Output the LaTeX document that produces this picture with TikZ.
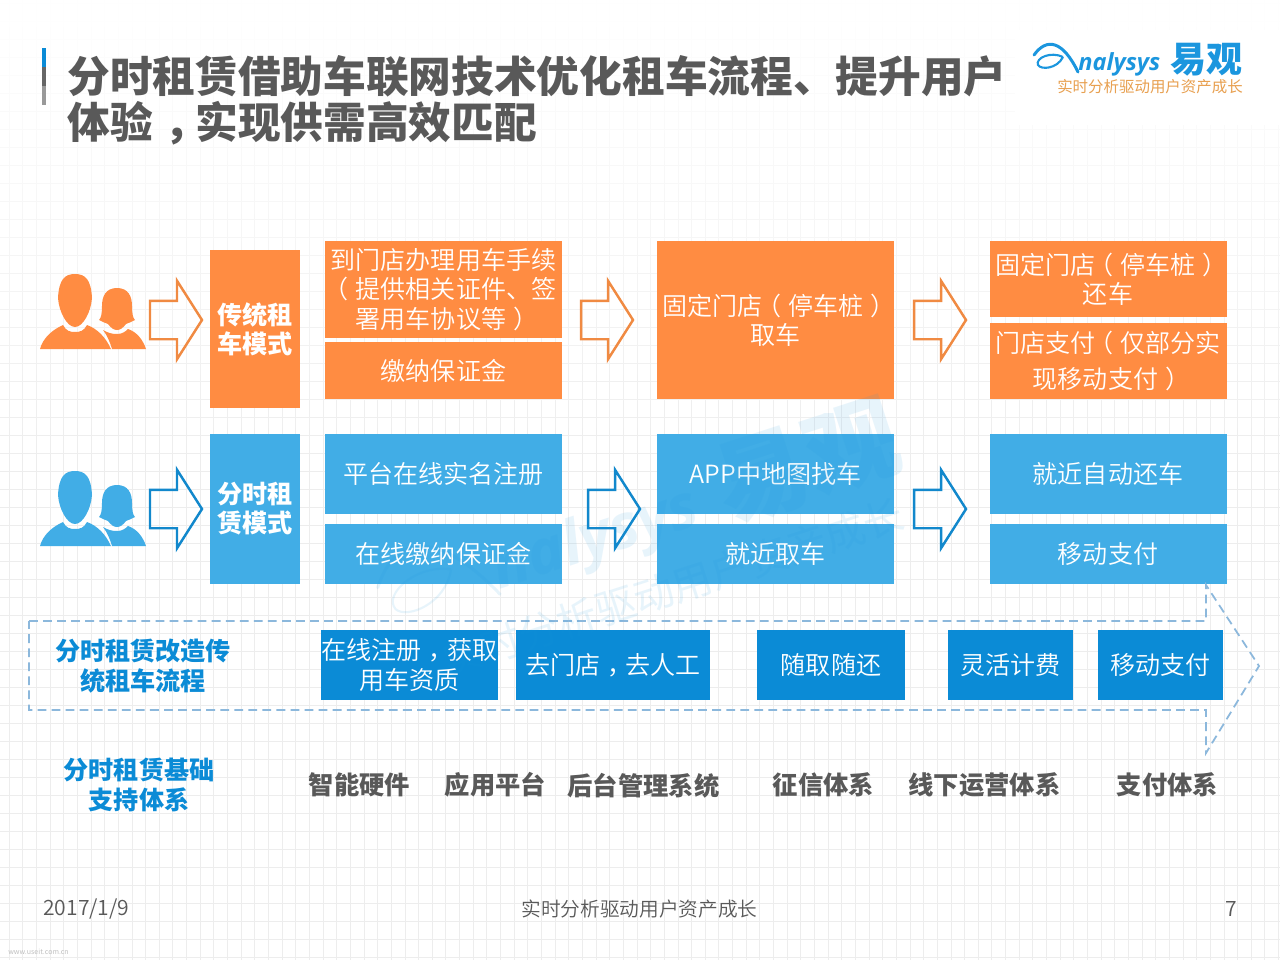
\documentclass[tikz,border=0pt]{standalone}
\usepackage{fontspec}
\setmainfont{Noto Sans CJK SC}
\newfontfamily\lightfont{Noto Sans CJK SC DemiLight}
\newfontfamily\logofont{Open Sans}
\usetikzlibrary{shapes.arrows, fadings}
\definecolor{orange1}{RGB}{255, 140, 66}
\definecolor{orangeline}{RGB}{240, 138, 66}
\definecolor{skyblue}{RGB}{65, 173, 230}
\definecolor{deepblue}{RGB}{11, 139, 214}
\definecolor{arrowblue}{RGB}{18, 136, 204}
\definecolor{dashblue}{RGB}{140, 184, 220}
\definecolor{titlegray}{RGB}{89, 89, 89}
\definecolor{logoblue}{RGB}{27, 150, 222}
\definecolor{logotag}{RGB}{232, 160, 80}
% full-width marks sit in the middle of their cell here
\newcommand{\cma}{\kern.27em，\kern-.27em}
\newcommand{\lpr}{\kern-.28em（\kern.28em}
\newcommand{\rpr}{\kern.28em）\kern-.28em}
\tikzset{
  sized/.style 2 args={minimum width=#1*0.02cm, minimum height=#2*0.02cm},
  flowbox/.style={inner sep=0pt, outer sep=0pt, text=white, align=center, font=\lightfont\fontsize{14.25}{16.7}\selectfont},
  modebox/.style={flowbox, font=\fontsize{14.3}{16.5}\selectfont\bfseries},
  flowarrow/.style={single arrow, draw=#1, line width=1.4pt, inner xsep=0pt, inner ysep=0.36cm, outer sep=0pt, anchor=tip,
    minimum height=1.04cm, single arrow head extend=0.40cm,
    single arrow head indent=0pt, single arrow tip angle=115},
  sidelabel/.style={align=center, text=deepblue, font=\fontsize{14.3}{16.8}\selectfont\bfseries},
  baselabel/.style={text=titlegray, font=\fontsize{14.4}{16.8}\selectfont\bfseries},
  footlabel/.style={text=titlegray, font=\lightfont\fontsize{11.2}{13}\selectfont},
  pics/people/.style={code={
    \fill[#1] (75,274) .. controls (65,274) and (59,279) .. (58,298) .. controls (59,312) and (67,327) .. (75,327)
      .. controls (83,327) and (91,312) .. (92,298) .. controls (91,279) and (85,274) .. (75,274) -- cycle;
    \fill[#1] (40,349) .. controls (43,338) and (52,330) .. (63,325) .. controls (66,331) and (70,332) .. (75,332)
      .. controls (80,332) and (84,331) .. (87,325) .. controls (98,329) and (106,338) .. (111,349) -- cycle;
    \fill[#1] (117,288) .. controls (106,288) and (102,296) .. (102,306) .. controls (102,314) and (101,318) .. (99,320)
      .. controls (102,322) and (106,323) .. (108,324) .. controls (111,328) and (114,330) .. (117,330)
      .. controls (120,330) and (123,328) .. (126,324) .. controls (128,323) and (132,322) .. (135,320)
      .. controls (133,318) and (132,314) .. (132,306) .. controls (132,296) and (128,288) .. (117,288) -- cycle;
    \fill[#1] (103,330) .. controls (108,333) and (112,334) .. (117,334) .. controls (122,334) and (125,332) .. (128,329)
      .. controls (137,332) and (143,340) .. (146,349) -- (112,349) .. controls (110,342) and (107,335) .. (103,330) -- cycle;
  }},
  pics/brandlogo/.style={code={
    % swoosh and the small a, then the lettering; the origin is the middle of the logo
    \draw[logoblue, line width=1.7pt, line cap=round] (-105,-12) .. controls (-92,-30) and (-76,-26) .. (-61,5);
    \draw[logoblue, line width=1.2pt] (-76,-10) .. controls (-88,-16) and (-104,-9) .. (-101,-2)
      .. controls (-98,3) and (-82,2) .. (-76,-10);
    \node[anchor=base west, text=logoblue, font=\logofont\itshape\bfseries\fontsize{13.4}{16}\selectfont, inner sep=0pt] (lyname) at (-61,3) {nalysys};
    \node[text=logoblue, font=\fontsize{20.5}{22}\selectfont\bfseries, inner sep=0pt] (lycn) at (67,-7) {易观};
    \node[text=logotag, font=\fontsize{8.8}{10}\selectfont, inner sep=0pt] (lytag) at #1 {实时分析驱动用户资产成长};
  }},
}
\begin{document}
\begin{tikzpicture}[x=0.02cm, y=-0.02cm]
  \useasboundingbox (0,0) rectangle (1280,960);
  \fill[white] (0,0) rectangle (1280,960);

  % Grid paper, fading out towards the top
  \foreach \gx in {9,22.65,...,1280} \draw[black!7, line width=0.4pt] (\gx,0) -- (\gx,960);
  \foreach \gy in {3,21,...,960} \draw[black!7, line width=0.4pt] (0,\gy) -- (1280,\gy);
  \fill[white, path fading=south] (0,0) rectangle (1280,480);
  \fill[white] (1015,30) rectangle (1280,125);

  % Title
  \fill[deepblue] (42,48) rectangle (46,67);
  \fill[black!60] (42,67) rectangle (46,86);
  \fill[black!40] (42,86) rectangle (46,105);
  \node[anchor=north west, align=left, inner sep=0pt, text=titlegray, font=\fontsize{24.3}{26}\selectfont\bfseries] (title) at (67,55.5) {分时租赁借助车联网技术优化租车流程、提升用户\\体验\cma 实现供需高效匹配};
  \pic at (1139,67) {brandlogo={(11,20)}};

  % Traditional rental row
  \pic at (0,0) {people=orange1};
  \node[flowarrow=orangeline] (oa1) at (202,320) {};
  \node[modebox, sized={90}{158}, fill=orange1] (mode1) at (255,329) {传统租\\车模式};
  \node[flowbox, sized={237}{97}, fill=orange1] (o1) at (443.5,289.5) {到门店办理用车手续\\\lpr 提供相关证件、签\\署用车协议等\rpr};
  \node[flowbox, sized={237}{57}, fill=orange1] (o2) at (443.5,370.5) {缴纳保证金};
  \node[flowarrow=orangeline] (oa2) at (633,320) {};
  \node[flowbox, sized={237}{158}, fill=orange1] (o3) at (775.5,320) {固定门店\lpr 停车桩\rpr\\取车};
  \node[flowarrow=orangeline] (oa3) at (966,320) {};
  \node[flowbox, sized={237}{76}, fill=orange1] (o4) at (1108,279) {固定门店\lpr 停车桩\rpr\\还车};
  \node[flowbox, sized={237}{76}, fill=orange1, font=\lightfont\fontsize{14.25}{20}\selectfont] (o5) at (1108,361) {门店支付\lpr 仅部分实\\现移动支付\rpr};

  % Time-share rental row
  \pic at (0,197) {people=skyblue};
  \node[flowarrow=arrowblue] (ba1) at (202,509) {};
  \node[modebox, sized={90}{150}, fill=skyblue] (mode2) at (255,509) {分时租\\赁模式};
  \node[flowbox, sized={237}{80}, fill=skyblue] (b1) at (443.5,474) {平台在线实名注册};
  \node[flowbox, sized={237}{60}, fill=skyblue] (b2) at (443.5,554) {在线缴纳保证金};
  \node[flowarrow=arrowblue] (ba2) at (640,509) {};
  \node[flowbox, sized={237}{80}, fill=skyblue] (b3) at (775.5,474) {APP中地图找车};
  \node[flowbox, sized={237}{60}, fill=skyblue] (b4) at (775.5,554) {就近取车};
  \node[flowarrow=arrowblue] (ba3) at (966,509) {};
  \node[flowbox, sized={237}{80}, fill=skyblue] (b5) at (1108,474) {就近自动还车};
  \node[flowbox, sized={237}{60}, fill=skyblue] (b6) at (1108,554) {移动支付};

  % Dashed band
  \draw[dashblue, line width=1pt, dash pattern=on 5pt off 3pt] (29,621) -- (1206,621) -- (1206,585) -- (1259,666) -- (1206,753) -- (1206,710) -- (29,710) -- cycle;
  \node[sidelabel] (reform) at (143,666) {分时租赁改造传\\统租车流程};
  \node[flowbox, sized={177}{70}, fill=deepblue] (r1) at (409.5,665) {在线注册\cma 获取\\用车资质};
  \node[flowbox, sized={194}{70}, fill=deepblue] (r2) at (613,665) {去门店\cma 去人工};
  \node[flowbox, sized={148}{70}, fill=deepblue] (r3) at (831,665) {随取随还};
  \node[flowbox, sized={125}{70}, fill=deepblue] (r4) at (1010.5,665) {灵活计费};
  \node[flowbox, sized={125}{70}, fill=deepblue] (r5) at (1160.5,665) {移动支付};

  % Support systems
  \node[sidelabel] (support) at (139,785) {分时租赁基础\\支持体系};
  \node[baselabel] (s1) at (359.5,785) {智能硬件};
  \node[baselabel] (s2) at (495.5,785) {应用平台};
  \node[baselabel] (s3) at (643.5,786) {后台管理系统};
  \node[baselabel] (s4) at (823.5,785) {征信体系};
  \node[baselabel] (s5) at (984.5,785) {线下运营体系};
  \node[baselabel] (s6) at (1167.5,785) {支付体系};

  % Footer
  \node[footlabel, anchor=west, inner sep=0pt, font=\lightfont\fontsize{12}{14}\selectfont] (date) at (43,909.5) {2017/1/9};
  \node[footlabel] (slogan) at (639.5,909) {实时分析驱动用户资产成长};
  \node[footlabel, font=\lightfont\fontsize{12}{14}\selectfont] (page) at (1231,909) {7};
  \node[text=black!25, anchor=west, inner sep=0pt, font=\fontsize{4}{5}\selectfont] (site) at (8,952) {www.useit.com.cn};

  % Watermark
  \begin{scope}[shift={(647,533)}, scale=2.6, rotate=18, transform shape, opacity=0.1]
    \colorlet{logotag}{logoblue}
    \pic at (0,0) {brandlogo={(3,23)}};
  \end{scope}
\end{tikzpicture}
\end{document}
